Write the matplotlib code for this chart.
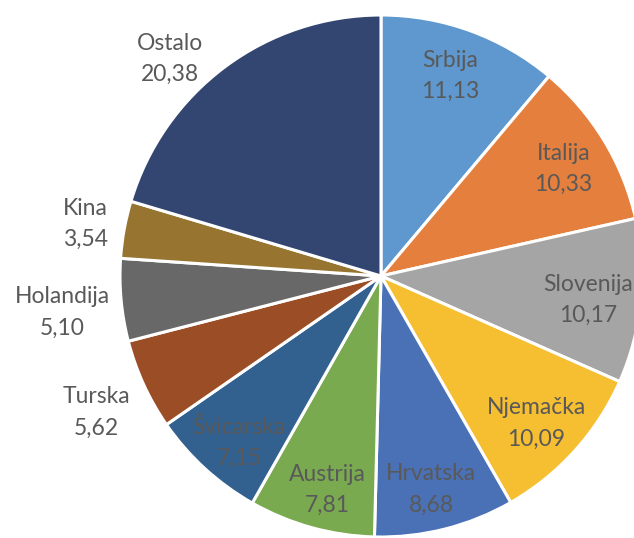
import numpy as np
import matplotlib
matplotlib.use("Agg")
import matplotlib.pyplot as plt

countries = ["Srbija", "Italija", "Slovenija", "Njemačka", "Hrvatska", "Austrija",
             "Švicarska", "Turska", "Holandija", "Kina", "Ostalo"]
values = [11.13, 10.33, 10.17, 10.09, 8.68, 7.81, 7.15, 5.62, 5.10, 3.54, 20.38]
value_labels = ["11,13", "10,33", "10,17", "10,09", "8,68", "7,81", "7,15",
                "5,62", "5,10", "3,54", "20,38"]

colors = ['#5E98CF', '#E57F3E', '#A5A5A5', '#F6BE31', '#4A70B6', '#7AAA50',
          '#33618F', '#9B4E26', '#686868', '#977530', '#334671']
# label placement (radial factor, angle tweak in degrees)
label_r = [0.81, 0.81, 0.80, 0.82, 0.84, 0.845, 0.84, 1.21, 1.23, 1.15, 1.16]
label_da = [1.0, -1.0, -1.0, -1.5, -1.0, 1.5, 2.0, 1.0, 1.2, 0.3, 7.5]

W, H = 634, 538
cx, cy, R = 381, 276, 261
fig = plt.figure(figsize=(W / 100, H / 100), dpi=100)
ax = fig.add_axes([0, 0, 1, 1])
wedges, _ = ax.pie(values, colors=colors, startangle=90, counterclock=False,
                   radius=1.0, wedgeprops=dict(edgecolor='white', linewidth=2.2))
ax.set_xlim(-cx / R, (W - cx) / R)
ax.set_ylim(-(H - cy) / R, cy / R)
ax.set_aspect('equal')
ax.axis('off')

for w, name, val, rf, da in zip(wedges, countries, value_labels, label_r, label_da):
    th = np.deg2rad((w.theta1 + w.theta2) / 2 + da)
    x, y = rf * np.cos(th), rf * np.sin(th)
    ax.text(x, y, f"{name}\n{val}", ha='center', va='center', fontsize=16.5,
            family=['Lato', 'DejaVu Sans'], color='#595959', linespacing=1.6)

fig.savefig("out.png", dpi=100)
